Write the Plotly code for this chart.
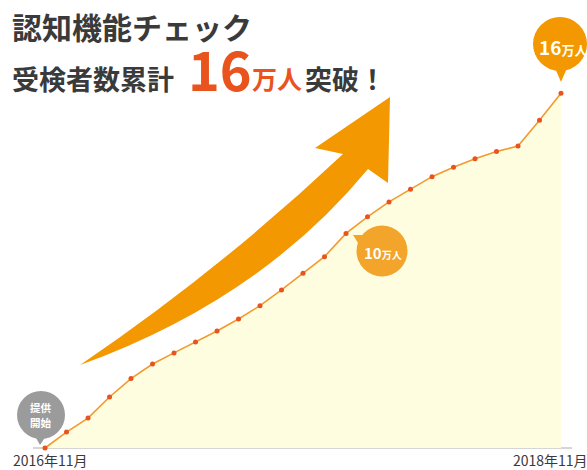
import plotly.graph_objects as go

# ---------------- data ----------------
months = ["2016年11月", "2016年12月", "2017年1月", "2017年2月", "2017年3月", "2017年4月",
          "2017年5月", "2017年6月", "2017年7月", "2017年8月", "2017年9月", "2017年10月",
          "2017年11月", "2017年12月", "2018年1月", "2018年2月", "2018年3月", "2018年4月",
          "2018年5月", "2018年6月", "2018年7月", "2018年8月", "2018年9月", "2018年10月",
          "2018年11月"]
cumulative_users = [0, 7200, 13500, 23000, 31300, 37900, 42900, 47800, 52800, 58200,
                    64200, 71300, 78800, 86300, 96800, 104300, 111000, 116700, 122400,
                    126600, 130500, 133700, 136200, 147800, 160000]
start_label = "2016年11月"
end_label = "2018年11月"
title_line1 = "認知機能チェック"

W, H = 587, 470
FONT = "Noto Sans CJK JP"
ORANGE = "#F39800"
RED = "#E8531E"
DARK = "#3a3a3a"


def px(x):
    return x / W


def py(y):
    return 1 - y / H


def path_px(cmds):
    out = []
    for c in cmds:
        if isinstance(c, str):
            out.append(c)
        else:
            out.append(f"{px(c[0]):.5f},{py(c[1]):.5f}")
    return " ".join(out)


fig = go.Figure()
fig.add_trace(go.Scatter(
    x=months, y=cumulative_users, mode="lines+markers",
    line=dict(color="#F29A2E", width=1.6),
    marker=dict(color=RED, size=5),
    fill="tozeroy", fillcolor="#FFFDE0",
    hoverinfo="skip",
))

shapes = []
# baseline
shapes.append(dict(type="line", xref="paper", yref="y", x0=px(33), x1=px(572), y0=0, y1=0,
                   line=dict(color="#c8c8c8", width=1.5), layer="below"))
# big arrow
arrow = path_px(["M", (80, 365), "Q", (220, 270), (343, 154), "L", (315, 148), "L", (390, 97),
                 "L", (388, 183), "L", (368, 169), "Q", (260, 300), (80, 365), "Z"])
shapes.append(dict(type="path", xref="paper", yref="paper", path=arrow,
                   fillcolor=ORANGE, line=dict(width=0), layer="below"))


def bubble(cx, cy, r, color, tail):
    shapes.append(dict(type="circle", xref="paper", yref="paper",
                       x0=px(cx - r), x1=px(cx + r), y0=py(cy + r), y1=py(cy - r),
                       fillcolor=color, line=dict(width=0)))
    shapes.append(dict(type="path", xref="paper", yref="paper",
                       path=path_px(["M", tail[0], "L", tail[1], "L", tail[2], "Z"]),
                       fillcolor=color, line=dict(width=0)))


bubble(41, 415, 24, "#9b9b9b", [(35, 436), (40, 445), (46, 436)])
bubble(382, 251, 25.5, "#F2A42B", [(358, 243), (353, 235), (366, 235)])
bubble(560, 44, 27, ORANGE, [(555, 68), (561, 82), (567, 68)])


def ann(text, x, y, size, color, xanchor="center"):
    return dict(text=text, x=px(x), y=py(y), xref="paper", yref="paper",
                xanchor=xanchor, yanchor="middle", showarrow=False,
                font=dict(family=FONT, size=size, color=color))


annotations = [
    ann(f"<b>{title_line1}</b>", 10, 26, 30, DARK, "left"),
    ann("<b>受検者数累計</b>", 10, 78, 27, DARK, "left"),
    ann("<b>16</b>", 186, 67, 54, RED, "left"),
    ann("<b>万人</b>", 250, 78, 25, RED, "left"),
    ann("<b>突破！</b>", 303, 78, 27, DARK, "left"),
    ann(start_label, 50, 459.5, 14, DARK),
    ann(end_label, 550, 459.5, 14, DARK),
    ann("<b>提供</b>", 41, 407.5, 10.5, "white"),
    ann("<b>開始</b>", 41, 422.5, 10.5, "white"),
    ann("<b>10<span style='font-size:10px'>万人</span></b>", 383, 252, 15, "white"),
    ann("<b>16<span style='font-size:13px'>万人</span></b>", 563, 46, 19, "white"),
]

# axis ranges chosen so index 0 -> 45px, index 24 -> 561px, 0 -> 448px, 160000 -> 93px
step = (561 - 45) / 24
ppu = (448 - 93.3) / 160000
fig.update_layout(
    width=W, height=H, margin=dict(l=0, r=0, t=0, b=0),
    paper_bgcolor="white", plot_bgcolor="white", showlegend=False,
    xaxis=dict(visible=False, type="category", range=[-45 / step, (W - 45) / step], domain=[0, 1]),
    yaxis=dict(visible=False, range=[-(H - 448) / ppu, 448 / ppu], domain=[0, 1]),
    shapes=shapes, annotations=annotations,
)

fig.write_html("out.html")
